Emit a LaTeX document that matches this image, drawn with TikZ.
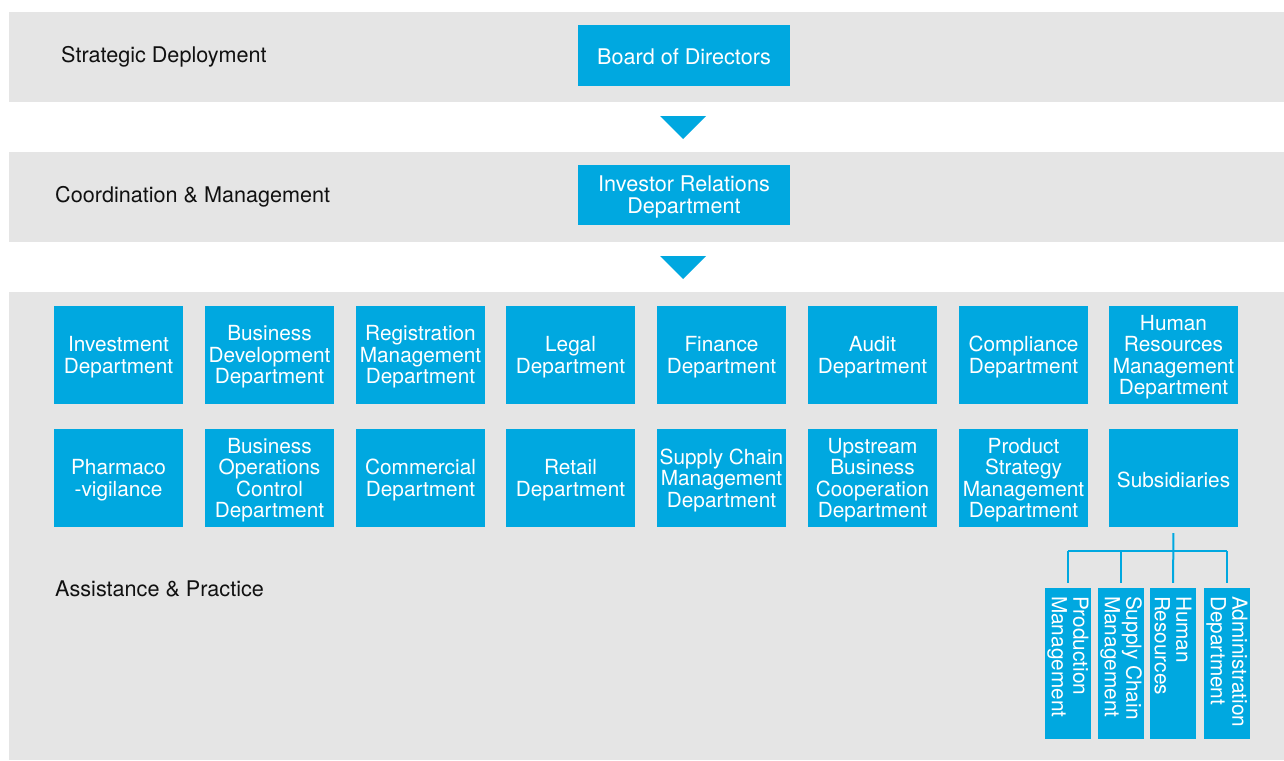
\documentclass[tikz,border=0pt]{standalone}
\usepackage{fontspec}
\setmainfont{TeX Gyre Heros}
\definecolor{brand}{HTML}{00A8E0}
\definecolor{band}{HTML}{E5E5E5}
\definecolor{ink}{HTML}{111111}
\newcommand{\boxfont}{\fontsize{20.8}{21.5}\selectfont}
\newcommand{\bigfont}{\fontsize{21.6}{22}\selectfont}
% department box: name, centre, text
\newcommand{\dept}[3]{%
  \node[unit, label={[unittext]center:{#3}}] (#1) at (#2) {};}
\begin{document}
\begin{tikzpicture}[x=1pt,y=-1pt,
  bandbg/.style={fill=band},
  tier/.style={text=ink, anchor=west, inner sep=0pt, font=\bigfont},
  unit/.style={fill=brand, inner sep=0pt, minimum width=129pt, minimum height=98pt},
  unittext/.style={text=white, inner sep=0pt, align=center, font=\boxfont, yshift=-2pt},
  topunit/.style={fill=brand, inner sep=0pt, minimum width=212pt, minimum height=60pt},
  toptext/.style={text=white, inner sep=0pt, align=center, font=\bigfont},
  subunit/.style={fill=brand, minimum width=46pt, minimum height=151pt, inner sep=0pt},
  sublabel/.style={text=white, rotate=-90, anchor=west, align=left,
                   inner sep=0pt, font=\boxfont},
  link/.style={draw=brand, line width=2pt},
  pointer/.style={fill=brand}]
\useasboundingbox (0,0) rectangle (1284,760);
\fill[white] (0,0) rectangle (1284,760);

% horizontal tiers
\fill[bandbg] (9,12) rectangle (1284,102);
\fill[bandbg] (9,152) rectangle (1284,242);
\fill[bandbg] (9,292) rectangle (1284,760);

\node[tier] (t1) at (61,57) {Strategic Deployment};
\node[tier] (t2) at (55,197) {Coordination \& Management};
\node[tier] (t3) at (55,589) {Assistance \& Practice};

% top of the hierarchy
\node[topunit, label={[toptext,yshift=-1pt]center:Board of Directors}] (board) at (684,55.5) {};
\node[topunit, label={[toptext,yshift=-2pt]center:{Investor Relations\\Department}}] (ir) at (684,195) {};

\fill[pointer] (660,116) -- (706,116) -- (683,139) -- cycle;
\fill[pointer] (660,256) -- (706,256) -- (683,279) -- cycle;

% departments, first row
\dept{d1}{118.5,355}{Investment\\Department}
\dept{d2}{269.5,355}{Business\\Development\\Department}
\dept{d3}{420.5,355}{Registration\\Management\\Department}
\dept{d4}{570.5,355}{Legal\\Department}
\dept{d5}{721.5,355}{Finance\\Department}
\dept{d6}{872.5,355}{Audit\\Department}
\dept{d7}{1023.5,355}{Compliance\\Department}
\dept{d8}{1173.5,355}{Human\\Resources\\Management\\Department}

% departments, second row
\dept{e1}{118.5,478}{Pharmaco\\-vigilance}
\dept{e2}{269.5,478}{Business\\Operations\\Control\\Department}
\dept{e3}{420.5,478}{Commercial\\Department}
\dept{e4}{570.5,478}{Retail\\Department}
\dept{e5}{721.5,478}{Supply Chain\\Management\\Department}
\dept{e6}{872.5,478}{Upstream\\Business\\Cooperation\\Department}
\dept{e7}{1023.5,478}{Product\\Strategy\\Management\\Department}
\dept{subs}{1173.5,478}{Subsidiaries}

% subsidiary functions
\node[subunit] (s1) at (1068,663.5) {};
\node[subunit] (s2) at (1121,663.5) {};
\node[subunit] (s3) at (1173,663.5) {};
\node[subunit] (s4) at (1227,663.5) {};
\node[sublabel] at ([yshift=-8pt]s1.north) {Production\\Management};
\node[sublabel] at ([yshift=-8pt]s2.north) {Supply Chain\\Management};
\node[sublabel] at ([yshift=-8pt]s3.north) {Human\\Resources};
\node[sublabel] at ([yshift=-8pt]s4.north) {Administration\\Department};

\coordinate (bus) at (1173,551);
\draw[link, shorten <=6pt, shorten >=5pt] (subs.south) -- (s3.north);
\draw[link] (s1.north |- bus) -- (s4.north |- bus);
\draw[link, shorten >=5pt] (s1.north |- bus) -- (s1.north);
\draw[link, shorten >=5pt] (s2.north |- bus) -- (s2.north);
\draw[link, shorten >=5pt] (s4.north |- bus) -- (s4.north);
\end{tikzpicture}
\end{document}
